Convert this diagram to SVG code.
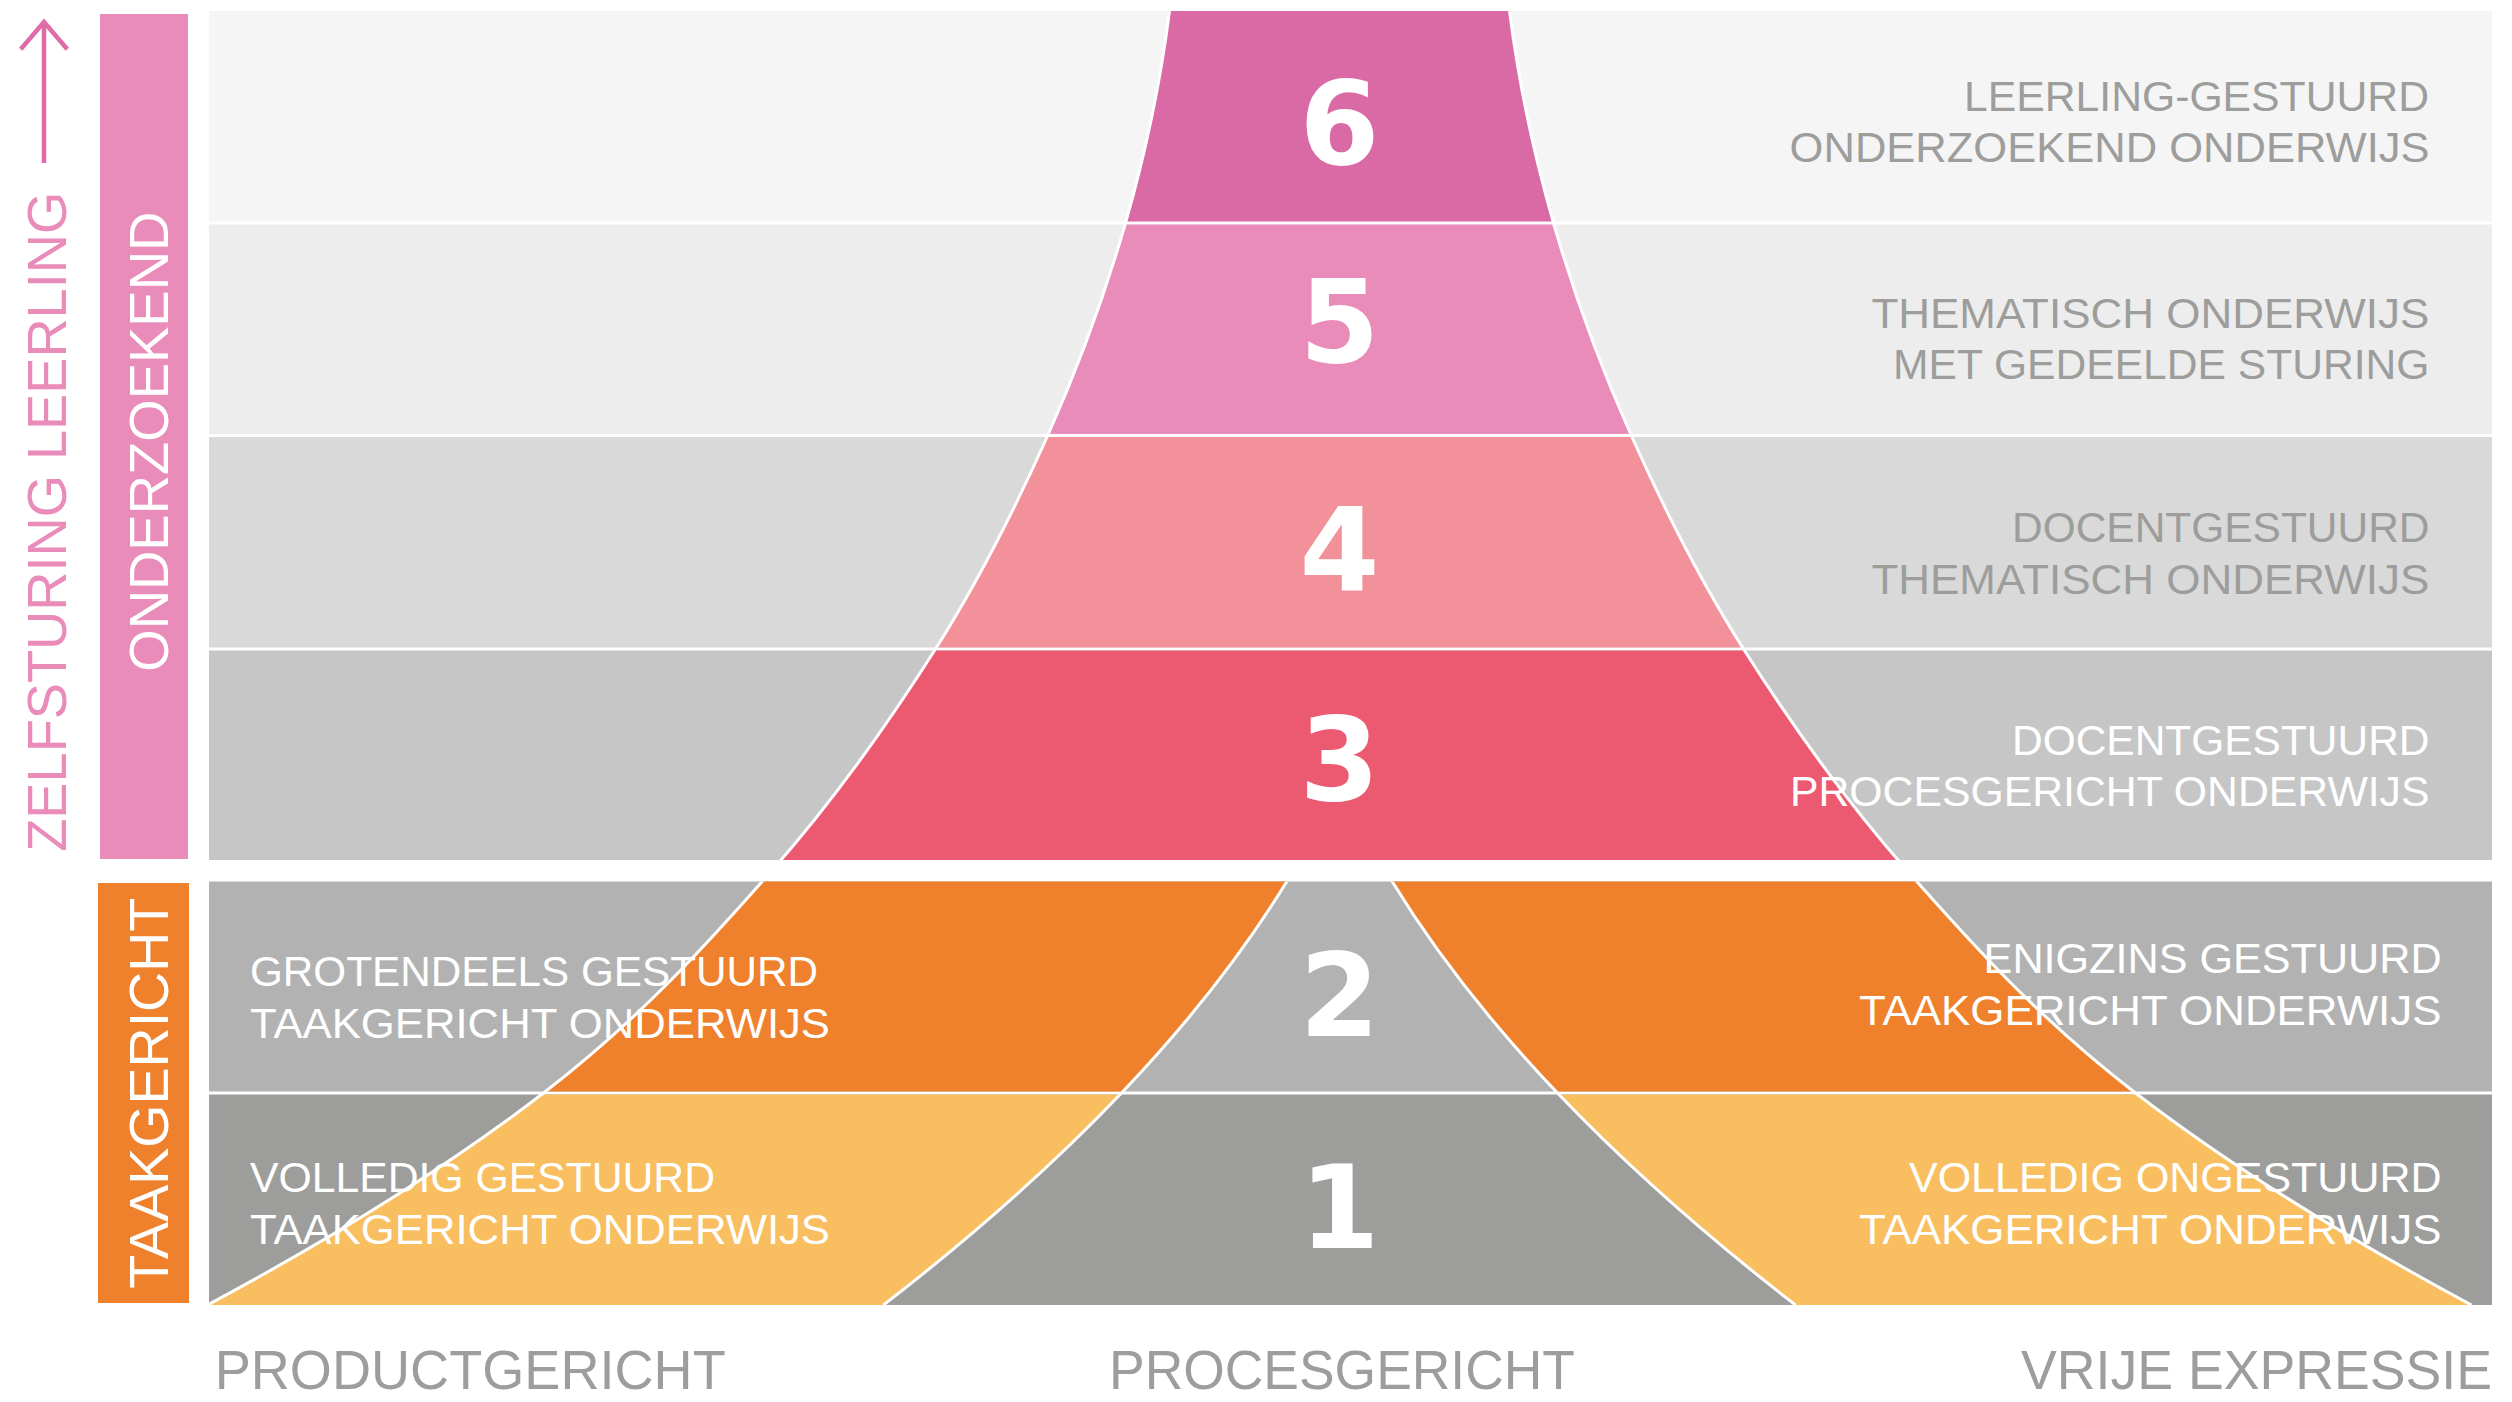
<svg xmlns="http://www.w3.org/2000/svg" width="2512" height="1402" viewBox="0 0 2512 1402">
<defs>
<style>
.lbl{font-family:"Liberation Sans Narrow","Liberation Sans",Arial,sans-serif;font-size:43px}
.g{fill:#9D9D9C}
.w{fill:#FFFFFF}
.num{font-family:"DejaVu Sans",Verdana,sans-serif;font-weight:bold;font-size:115px;fill:#FFFFFF;text-anchor:middle}
.axis{font-family:"Liberation Sans Narrow","Liberation Sans",Arial,sans-serif;font-size:56px;fill:#9D9D9C}
.side{font-family:"Liberation Sans",Arial,sans-serif;font-size:56px}
.curve{fill:none;stroke:#FFFFFF;stroke-width:3}
</style>
<clipPath id="c6"><rect x="209" y="11" width="2283" height="210.5"/></clipPath>
<clipPath id="c5"><rect x="209" y="224.5" width="2283" height="209.5"/></clipPath>
<clipPath id="c4"><rect x="209" y="437" width="2283" height="210.5"/></clipPath>
<clipPath id="c3"><rect x="209" y="650.5" width="2283" height="209.5"/></clipPath>
<clipPath id="c2"><rect x="209" y="881.5" width="2283" height="210"/></clipPath>
<clipPath id="c1"><rect x="209" y="1094.5" width="2283" height="210.5"/></clipPath>
<clipPath id="call"><rect x="209" y="11" width="2283" height="849"/><rect x="209" y="881.5" width="2283" height="423.5"/></clipPath>
<path id="funnelTop" d="M 1169.5,11 C 1160.5,81.67 1145.8,152.33 1125.5,223 C 1105.1,294 1079.2,365 1047.5,436 C 1015.8,507 980.5,578 935.5,649 C 888.6,723 836.8,797 771.5,871 L 1907.5,871 C 1842.2,797 1790.4,723 1743.5,649 C 1698.5,578 1663.2,507 1631.5,436 C 1599.8,365 1573.9,294 1553.5,223 C 1533.2,152.33 1518.5,81.67 1509.5,11 Z"/>
<path id="bandL" d="M 771.5,871 C 706.2,945 639.7,1019 543.5,1093 C 451.6,1163.67 339.2,1234.33 207.5,1305 L 207.5,1320 L 883.5,1320 L 883.5,1305 C 974.9,1234.33 1054.2,1163.67 1121.5,1093 C 1188.5,1022.67 1243.5,952.33 1286.5,882 L 1293.2,871 Z"/>
<path id="bandR" d="M 1907.5,871 C 1972.8,945 2039.3,1019 2135.5,1093 C 2227.4,1163.67 2339.8,1234.33 2471.5,1305 L 2471.5,1320 L 1795.5,1320 L 1795.5,1305 C 1704.1,1234.33 1624.8,1163.67 1557.5,1093 C 1490.5,1022.67 1435.5,952.33 1392.5,882 L 1385.8,871 Z"/>
</defs>
<rect x="0" y="0" width="2512" height="1402" fill="#FFFFFF"/>

<g id="side-labels">
<rect x="100" y="14" width="88" height="845" fill="#E98CB9"/>
<text class="side w" transform="translate(167.5,671.7) rotate(-90)" textLength="460" lengthAdjust="spacingAndGlyphs">ONDERZOEKEND</text>
<rect x="98" y="883" width="91" height="420" fill="#EF812C"/>
<text class="side w" transform="translate(167.5,1288.7) rotate(-90)" textLength="391" lengthAdjust="spacingAndGlyphs">TAAKGERICHT</text>
<text class="side" fill="#E98CB9" transform="translate(65.7,851.8) rotate(-90)" textLength="660" lengthAdjust="spacingAndGlyphs">ZELFSTURING LEERLING</text>
</g>

<g id="connectors">
<line x1="44" y1="163" x2="44" y2="24" stroke="#DD6CA7" stroke-width="4.5"/>
<polyline points="20.7,49.3 44,22 67.3,49.3" fill="none" stroke="#DD6CA7" stroke-width="4.5"/>
</g>

<g id="rows">
<rect x="209" y="11" width="2283" height="210.5" fill="#F5F5F5"/>
<rect x="209" y="224.5" width="2283" height="209.5" fill="#EDEDED"/>
<rect x="209" y="437" width="2283" height="210.5" fill="#D9D9D9"/>
<rect x="209" y="650.5" width="2283" height="209.5" fill="#C6C6C6"/>
<rect x="209" y="881.5" width="2283" height="210" fill="#B2B2B2"/>
<rect x="209" y="1094.5" width="2283" height="210.5" fill="#9D9D9C"/>
</g>

<g id="funnel">
<use href="#funnelTop" clip-path="url(#c6)" fill="#DA6AA5"/>
<use href="#funnelTop" clip-path="url(#c5)" fill="#E98CB9"/>
<use href="#funnelTop" clip-path="url(#c4)" fill="#F29199"/>
<use href="#funnelTop" clip-path="url(#c3)" fill="#EC5A71"/>
<use href="#bandL" clip-path="url(#c2)" fill="#EF812C"/>
<use href="#bandR" clip-path="url(#c2)" fill="#EF812C"/>
<use href="#bandL" clip-path="url(#c1)" fill="#F9BE5F"/>
<use href="#bandR" clip-path="url(#c1)" fill="#F9BE5F"/>
<g clip-path="url(#call)">
<path class="curve" d="M 1169.5,11 C 1160.5,81.67 1145.8,152.33 1125.5,223 C 1105.1,294 1079.2,365 1047.5,436 C 1015.8,507 980.5,578 935.5,649 C 888.6,723 836.8,797 771.5,871 C 706.2,945 639.7,1019 543.5,1093 C 451.6,1163.67 339.2,1234.33 207.5,1305"/>
<path class="curve" d="M 1509.5,11 C 1518.5,81.67 1533.2,152.33 1553.5,223 C 1573.9,294 1599.8,365 1631.5,436 C 1663.2,507 1698.5,578 1743.5,649 C 1790.4,723 1842.2,797 1907.5,871 C 1972.8,945 2039.3,1019 2135.5,1093 C 2227.4,1163.67 2339.8,1234.33 2471.5,1305"/>
<path class="curve" d="M 1293.2,871 L 1286.5,882 C 1243.5,952.33 1188.5,1022.67 1121.5,1093 C 1054.2,1163.67 974.9,1234.33 883.5,1305"/>
<path class="curve" d="M 1385.8,871 L 1392.5,882 C 1435.5,952.33 1490.5,1022.67 1557.5,1093 C 1624.8,1163.67 1704.1,1234.33 1795.5,1305"/>
</g>
</g>

<g id="level-6">
<text class="num" x="1339.5" y="164.4">6</text>
<text class="lbl g" x="1964" y="110.5" textLength="465" lengthAdjust="spacingAndGlyphs">LEERLING-GESTUURD</text>
<text class="lbl g" x="1789.6" y="161.6" textLength="640" lengthAdjust="spacingAndGlyphs">ONDERZOEKEND ONDERWIJS</text>
</g>
<g id="level-5">
<text class="num" x="1339.5" y="362">5</text>
<text class="lbl g" x="1871.4" y="328.3" textLength="558" lengthAdjust="spacingAndGlyphs">THEMATISCH ONDERWIJS</text>
<text class="lbl g" x="1893" y="379.4" textLength="536.5" lengthAdjust="spacingAndGlyphs">MET GEDEELDE STURING</text>
</g>
<g id="level-4">
<text class="num" x="1339.5" y="590">4</text>
<text class="lbl g" x="2012" y="542" textLength="417.5" lengthAdjust="spacingAndGlyphs">DOCENTGESTUURD</text>
<text class="lbl g" x="1871.4" y="593.7" textLength="558" lengthAdjust="spacingAndGlyphs">THEMATISCH ONDERWIJS</text>
</g>
<g id="level-3">
<text class="num" x="1339.5" y="800">3</text>
<text class="lbl w" x="2012" y="754.8" textLength="417.5" lengthAdjust="spacingAndGlyphs">DOCENTGESTUURD</text>
<text class="lbl w" x="1790" y="806.4" textLength="639.5" lengthAdjust="spacingAndGlyphs">PROCESGERICHT ONDERWIJS</text>
</g>
<g id="level-2">
<text class="num" x="1339.5" y="1036.4">2</text>
<text class="lbl w" x="250" y="986.2" textLength="568" lengthAdjust="spacingAndGlyphs">GROTENDEELS GESTUURD</text>
<text class="lbl w" x="250" y="1038.2" textLength="580" lengthAdjust="spacingAndGlyphs">TAAKGERICHT ONDERWIJS</text>
<text class="lbl w" x="1983.6" y="972.6" textLength="458" lengthAdjust="spacingAndGlyphs">ENIGZINS GESTUURD</text>
<text class="lbl w" x="1859" y="1024.6" textLength="582.5" lengthAdjust="spacingAndGlyphs">TAAKGERICHT ONDERWIJS</text>
</g>
<g id="level-1">
<text class="num" x="1339.5" y="1247.5">1</text>
<text class="lbl w" x="250" y="1192.3" textLength="465" lengthAdjust="spacingAndGlyphs">VOLLEDIG GESTUURD</text>
<text class="lbl w" x="250" y="1244" textLength="580" lengthAdjust="spacingAndGlyphs">TAAKGERICHT ONDERWIJS</text>
<text class="lbl w" x="1909" y="1192" textLength="532.5" lengthAdjust="spacingAndGlyphs">VOLLEDIG ONGESTUURD</text>
<text class="lbl w" x="1859" y="1244" textLength="582.5" lengthAdjust="spacingAndGlyphs">TAAKGERICHT ONDERWIJS</text>
</g>

<g id="axis-labels">
<text class="axis" x="214.7" y="1389" textLength="511" lengthAdjust="spacingAndGlyphs">PRODUCTGERICHT</text>
<text class="axis" x="1109" y="1389" textLength="466" lengthAdjust="spacingAndGlyphs">PROCESGERICHT</text>
<text class="axis" x="2021" y="1389" textLength="471" lengthAdjust="spacingAndGlyphs">VRIJE EXPRESSIE</text>
</g>
</svg>
